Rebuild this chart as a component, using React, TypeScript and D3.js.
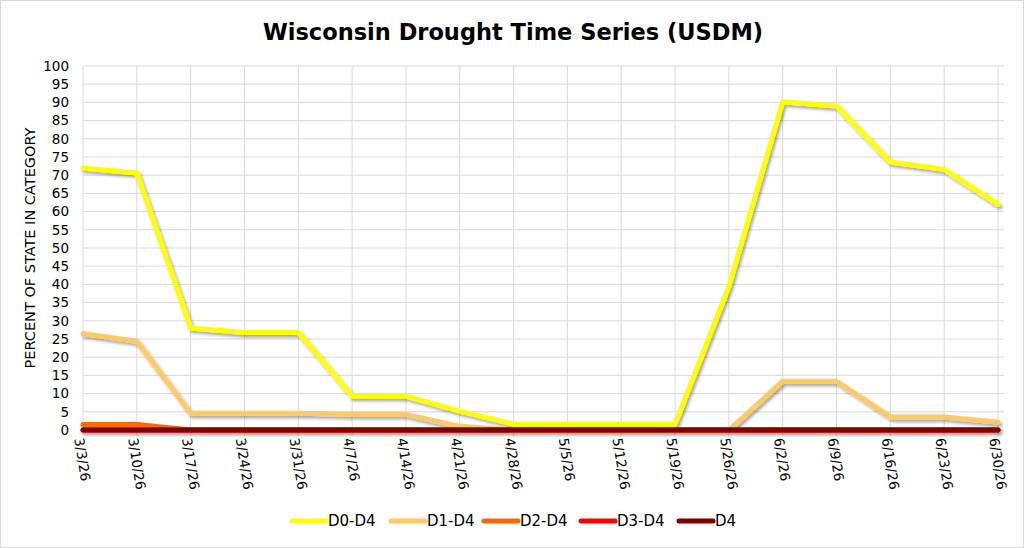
import React, { useEffect, useRef } from "react";
import * as d3 from "d3";

const dates = [
  "3/3/26", "3/10/26", "3/17/26", "3/24/26", "3/31/26", "4/7/26", "4/14/26", "4/21/26", "4/28/26",
  "5/5/26", "5/12/26", "5/19/26", "5/26/26", "6/2/26", "6/9/26", "6/16/26", "6/23/26", "6/30/26",
];
const d0 = [72, 70.6, 28, 26.8, 26.8, 9.3, 9.3, 5.2, 1.6, 1.6, 1.6, 1.6, 39.5, 90.2, 89, 73.6, 71.6, 62];
const d1 = [26.5, 24.4, 4.6, 4.6, 4.6, 4.3, 4.3, 1, 0, 0, 0, 0, 0, 13.4, 13.4, 3.6, 3.6, 2.2];
const d2 = [1.5, 1.5, 0, 0, 0, 0, 0, 0, 0, 0, 0, 0, 0, 0, 0, 0, 0, 0];
const d3s = [0, 0, 0, 0, 0, 0, 0, 0, 0, 0, 0, 0, 0, 0, 0, 0, 0, 0];
const d4 = [0, 0, 0, 0, 0, 0, 0, 0, 0, 0, 0, 0, 0, 0, 0, 0, 0, 0];
const seriesNames = ["D0-D4", "D1-D4", "D2-D4", "D3-D4", "D4"];
const seriesColors = ["#FFFF00", "#FFC966", "#FF6600", "#FF0000", "#7F0000"];
const yTicks = d3.range(0, 101, 5);

const W = 1024, H = 548;
const font = "'DejaVu Sans', sans-serif";

export default function App() {
  const ref = useRef<SVGSVGElement>(null);

  useEffect(() => {
    const svg = d3.select(ref.current);
    svg.selectAll("*").remove();
    const series = [d0, d1, d2, d3s, d4];

    const left = 83, right = 998, top = 66, bottom = 430;
    const x = d3.scalePoint<string>().domain(dates).range([left, right]);
    const y = d3.scaleLinear().domain([0, 100]).range([bottom, top]);

    const defs = svg.append("defs");
    const f = defs.append("filter").attr("id", "shadow").attr("x", "-5%").attr("y", "-5%").attr("width", "110%").attr("height", "120%");
    f.append("feDropShadow").attr("dx", 2).attr("dy", 2.5).attr("stdDeviation", 1.5)
      .attr("flood-color", "#000").attr("flood-opacity", 0.35);

    svg.append("rect").attr("x", 0.5).attr("y", 0.5).attr("width", W - 1).attr("height", H - 1)
      .attr("fill", "#fff").attr("stroke", "#d9d9d9");

    svg.append("text").attr("x", 513).attr("y", 40).attr("text-anchor", "middle")
      .attr("font-family", font).attr("font-weight", "bold").attr("font-size", 22.5)
      .attr("fill", "#000").text("Wisconsin Drought Time Series (USDM)");

    const grid = svg.append("g");
    grid.selectAll("line.h").data(yTicks).join("line")
      .attr("x1", left).attr("x2", 1004).attr("y1", (d) => y(d)).attr("y2", (d) => y(d))
      .attr("stroke", "#d9d9d9").attr("stroke-width", 1);
    grid.selectAll("line.v").data(dates).join("line")
      .attr("x1", (d) => x(d)!).attr("x2", (d) => x(d)!).attr("y1", top).attr("y2", bottom + 6)
      .attr("stroke", "#d9d9d9").attr("stroke-width", 1);

    svg.append("g").selectAll("text").data(yTicks).join("text")
      .attr("x", 69).attr("y", (d) => y(d)).attr("dy", "0.35em").attr("text-anchor", "end")
      .attr("font-family", font).attr("font-size", 13.5).attr("fill", "#000").text((d) => d);

    svg.append("g").selectAll("text").data(dates).join("text")
      .attr("transform", (d) => `translate(${x(d)! - 4},${bottom + 8}) rotate(81)`)
      .attr("dy", "0.35em").attr("text-anchor", "start")
      .attr("font-family", font).attr("font-size", 13.5).attr("fill", "#000").text((d) => d);

    svg.append("text").attr("transform", `translate(35,248) rotate(-90)`).attr("text-anchor", "middle")
      .attr("font-family", font).attr("font-size", 14.5).attr("fill", "#000")
      .text("PERCENT OF STATE IN CATEGORY");

    const line = d3.line<number>().x((_, i) => x(dates[i])!).y((d) => y(d));
    svg.append("g").attr("filter", "url(#shadow)").selectAll("path").data(series).join("path")
      .attr("d", (d) => line(d)).attr("fill", "none")
      .attr("stroke", (_, i) => seriesColors[i]).attr("stroke-width", 5)
      .attr("stroke-linejoin", "round").attr("stroke-linecap", "round");

    const lx = [292, 391, 484, 581, 679];
    const lg = svg.append("g").selectAll("g").data(seriesNames).join("g")
      .attr("transform", (_, i) => `translate(${lx[i]},521)`);
    lg.append("line").attr("x1", 0).attr("x2", 34).attr("stroke", (_, i) => seriesColors[i])
      .attr("stroke-width", 5).attr("stroke-linecap", "round");
    lg.append("text").attr("x", 36).attr("dy", "0.35em").attr("font-family", font)
      .attr("font-size", 15).attr("fill", "#000").text((d) => d);
  }, []);

  return (
    <svg ref={ref} width={W} height={H}
      style={{ position: "absolute", left: 0, top: 0, display: "block" }} />
  );
}
